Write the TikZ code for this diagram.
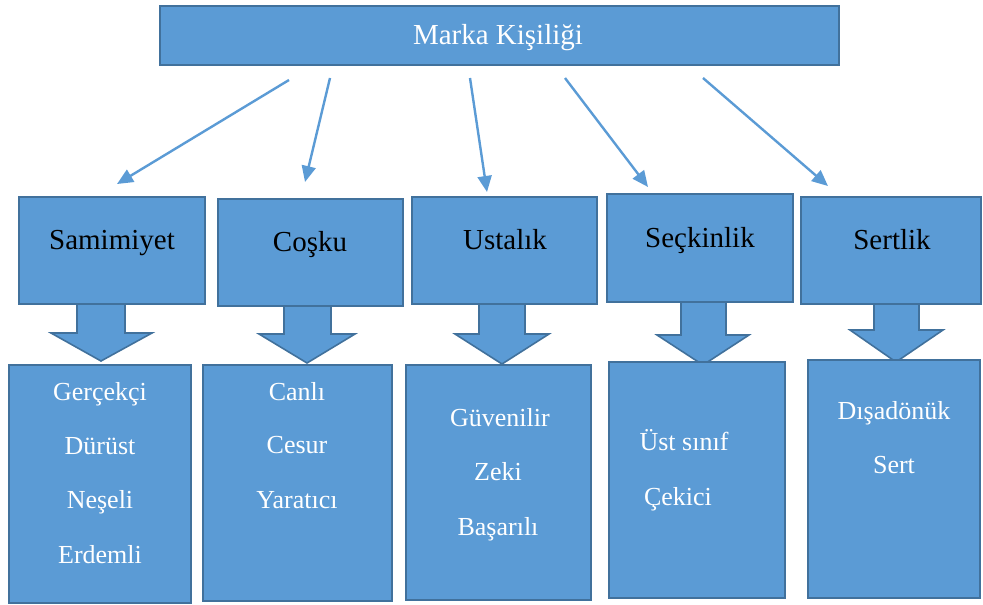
\documentclass[tikz,border=0pt]{standalone}
\usepackage{fontspec}
\setmainfont{Liberation Serif}
\usetikzlibrary{arrows.meta}
\definecolor{boxfill}{HTML}{5B9BD5}
\definecolor{boxline}{HTML}{41719C}
\begin{document}
\begin{tikzpicture}[x=1pt,y=-1pt,
  box/.style={draw=boxline,fill=boxfill,line width=1.6pt,inner sep=0pt,outer sep=0pt},
  headtxt/.style={anchor=base,inner sep=0pt,text=white,font=\fontsize{29}{34}\selectfont},
  cattxt/.style={anchor=base,inner sep=0pt,text=black,font=\fontsize{29}{34}\selectfont},
  itemtxt/.style={anchor=base,inner sep=0pt,text=white,font=\fontsize{26}{31}\selectfont},
  link/.style={draw=boxfill,line width=2.4pt,-{Triangle[length=16pt,width=14pt]}},
  blockarrow/.style={draw=boxline,fill=boxfill,line width=1.6pt,line join=miter}]
\useasboundingbox (0,0) rectangle (983,605);

% boxes given by corners
\newcommand{\boxat}[5]{\node[box,minimum width=#4-#2,minimum height=#5-#3] (#1) at ({(#2+#4)/2},{(#3+#5)/2}) {};}

% top box
\boxat{top}{160}{6}{839}{65}
\node[headtxt] (toptxt) at (498,44) {Marka Kişiliği};

% category boxes
\boxat{c1}{19}{197}{205}{304}
\boxat{c2}{218}{199}{403}{306}
\boxat{c3}{412}{197}{597}{304}
\boxat{c4}{607}{194}{793}{302}
\boxat{c5}{801}{197}{981}{304}
\node[cattxt] (c1t) at (112,249) {Samimiyet};
\node[cattxt] (c2t) at (310,251) {Coşku};
\node[cattxt] (c3t) at (505,249) {Ustalık};
\node[cattxt] (c4t) at (700,247) {Seçkinlik};
\node[cattxt] (c5t) at (892,249) {Sertlik};

% block arrows: shaft left/right, head left/right, tip x, shaft top, head top, tip y
\newcommand{\blockarrow}[8]{\draw[blockarrow] (#1,#6) -- (#1,#7) -- (#3,#7) -- (#5,#8) -- (#4,#7) -- (#2,#7) -- (#2,#6) -- cycle;}
\blockarrow{77}{125}{51}{152}{101}{304}{333}{361}
\blockarrow{284}{331}{259}{355}{307}{306}{334}{363}
\blockarrow{479}{525}{455}{549}{502}{304}{334}{364}
\blockarrow{681}{726}{657}{749}{703}{302}{335}{365}
\blockarrow{874}{919}{850}{943}{896}{304}{330}{362}

% item boxes
\boxat{d1}{9}{365}{191}{603}
\boxat{d2}{203}{365}{392}{601}
\boxat{d3}{406}{365}{591}{600}
\boxat{d4}{609}{362}{785}{598}
\boxat{d5}{808}{360}{980}{598}

\node[itemtxt] (d1a) at (100,400) {Gerçekçi};
\node[itemtxt] (d1b) at (100,454) {Dürüst};
\node[itemtxt] (d1c) at (100,508) {Neşeli};
\node[itemtxt] (d1d) at (100,563) {Erdemli};
\node[itemtxt] (d2a) at (297,400) {Canlı};
\node[itemtxt] (d2b) at (297,453) {Cesur};
\node[itemtxt] (d2c) at (297,508) {Yaratıcı};
\node[itemtxt] (d3a) at (500,426) {Güvenilir};
\node[itemtxt] (d3b) at (498,480) {Zeki};
\node[itemtxt] (d3c) at (498,535) {Başarılı};
\node[itemtxt] (d4a) at (684,450) {Üst sınıf};
\node[itemtxt] (d4b) at (678,505) {Çekici};
\node[itemtxt] (d5a) at (894,419) {Dışadönük};
\node[itemtxt] (d5b) at (894,473) {Sert};

% connector end points
\coordinate (s1) at (289,80);  \coordinate (e1) at (117,184);
\coordinate (s2) at (330,78);  \coordinate (e2) at (305,182);
\coordinate (s3) at (470,78);  \coordinate (e3) at (487,192);
\coordinate (s4) at (565,78);  \coordinate (e4) at (648,187);
\coordinate (s5) at (703,78);  \coordinate (e5) at (828,186);
\draw[link] (s1) -- (e1);
\draw[link] (s2) -- (e2);
\draw[link] (s3) -- (e3);
\draw[link] (s4) -- (e4);
\draw[link] (s5) -- (e5);
\end{tikzpicture}
\end{document}
